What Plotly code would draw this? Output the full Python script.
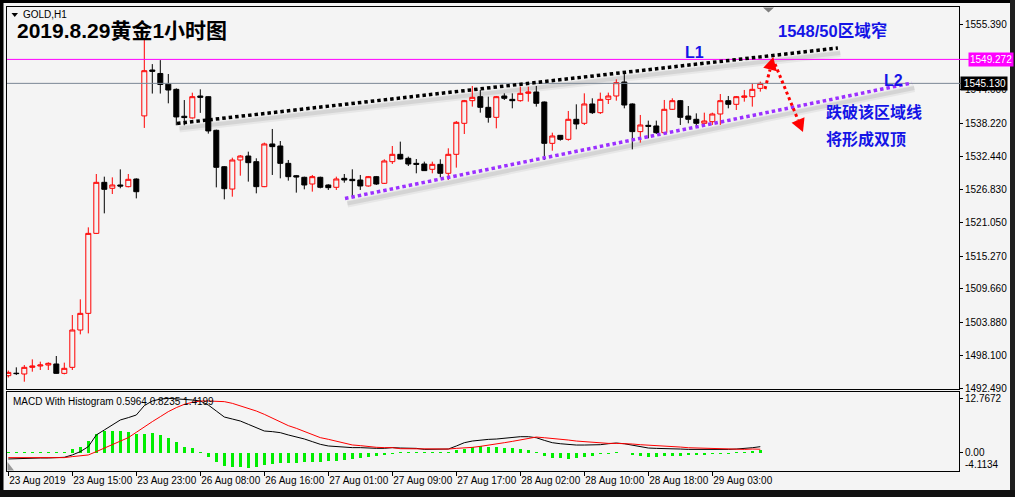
import plotly.graph_objects as go

# ---------------- data ----------------
tick_bars = [0, 8, 16, 24, 32, 40, 48, 56, 64, 72, 80, 88]
tick_labels = ["23 Aug 2019", "23 Aug 15:00", "23 Aug 23:00", "26 Aug 08:00", "26 Aug 16:00",
               "27 Aug 01:00", "27 Aug 09:00", "27 Aug 17:00", "28 Aug 02:00", "28 Aug 10:00",
               "28 Aug 18:00", "29 Aug 03:00"]

opens = [1494.62, 1495.05, 1494.91, 1496.06, 1496.29, 1496.46, 1496.64, 1495.02, 1496.06, 1502.51,
         1505.39, 1519.21, 1528.03, 1527.00, 1527.57, 1527.28, 1528.60, 1539.51, 1547.44, 1546.84,
         1545.00, 1544.10, 1539.45, 1539.16, 1542.95, 1542.83, 1537.02, 1530.73, 1526.87, 1531.89,
         1532.58, 1531.60, 1527.28, 1534.66, 1534.31, 1531.31, 1529.18, 1528.90, 1527.74, 1528.90,
         1527.57, 1527.17, 1528.72, 1528.55, 1528.43, 1527.40, 1529.01, 1527.86, 1531.60, 1532.87,
         1532.18, 1531.31, 1531.20, 1530.28, 1531.14, 1529.59, 1532.87, 1538.23, 1542.14, 1542.83,
         1540.99, 1539.26, 1542.95, 1542.37, 1542.14, 1543.41, 1543.64, 1541.91, 1534.77, 1536.15,
         1535.46, 1538.92, 1538.23, 1541.57, 1540.07, 1542.37, 1542.95, 1545.37, 1541.57, 1536.79,
         1537.88, 1537.77, 1536.61, 1540.65, 1542.14, 1539.49, 1538.92, 1538.23, 1538.51, 1539.84,
         1542.14, 1541.51, 1542.72, 1542.83, 1544.27]
highs = [1495.50, 1496.06, 1496.46, 1497.44, 1497.04, 1496.93, 1498.02, 1496.87, 1505.10, 1507.81,
         1520.25, 1529.47, 1529.01, 1528.89, 1530.27, 1529.47, 1528.72, 1552.92, 1548.46, 1549.15,
         1546.75, 1544.27, 1542.25, 1543.52, 1544.10, 1542.90, 1537.14, 1530.85, 1532.29, 1532.75,
         1533.33, 1532.18, 1534.89, 1537.25, 1535.17, 1531.89, 1529.30, 1529.01, 1529.30, 1529.01,
         1527.69, 1529.01, 1529.47, 1530.28, 1529.30, 1529.13, 1529.13, 1532.01, 1534.31, 1535.06,
         1532.47, 1532.06, 1531.60, 1531.60, 1532.01, 1533.91, 1538.63, 1542.26, 1544.68, 1543.99,
         1542.83, 1542.95, 1543.41, 1543.41, 1544.56, 1544.56, 1544.68, 1542.00, 1536.61, 1536.20,
         1540.36, 1541.51, 1543.41, 1542.55, 1543.53, 1543.53, 1545.83, 1547.15, 1541.68, 1539.67,
         1538.69, 1538.69, 1542.26, 1542.55, 1542.26, 1541.22, 1539.95, 1540.07, 1540.07, 1543.29,
         1542.95, 1542.95, 1543.99, 1545.14, 1545.43]
lows = [1494.30, 1494.73, 1493.58, 1495.31, 1495.60, 1495.60, 1494.95, 1494.85, 1495.60, 1501.76,
        1501.93, 1519.10, 1522.67, 1526.01, 1527.00, 1527.16, 1525.26, 1537.43, 1543.37, 1543.37,
        1541.68, 1537.89, 1537.89, 1539.04, 1540.03, 1536.45, 1527.16, 1525.09, 1525.55, 1529.18,
        1528.15, 1526.13, 1527.20, 1529.30, 1528.72, 1528.32, 1526.25, 1526.82, 1526.42, 1526.99,
        1526.71, 1526.71, 1527.97, 1525.56, 1526.71, 1527.28, 1527.57, 1527.74, 1531.20, 1532.00,
        1530.85, 1529.59, 1529.99, 1529.59, 1528.90, 1528.43, 1530.57, 1536.38, 1541.11, 1540.07,
        1538.34, 1537.36, 1542.26, 1540.82, 1541.97, 1541.97, 1541.11, 1531.89, 1533.50, 1535.23,
        1535.23, 1537.19, 1537.94, 1539.84, 1539.84, 1541.57, 1542.14, 1540.82, 1533.73, 1534.89,
        1535.63, 1536.38, 1536.38, 1540.53, 1537.94, 1538.23, 1537.77, 1537.94, 1537.94, 1537.94,
        1540.82, 1540.53, 1541.97, 1541.11, 1543.70]
closes = [1495.19, 1494.98, 1496.06, 1496.29, 1496.46, 1496.75, 1495.02, 1495.89, 1502.51, 1505.39,
          1519.21, 1528.03, 1526.82, 1527.57, 1527.39, 1528.55, 1526.41, 1547.32, 1547.21, 1544.94,
          1543.98, 1539.33, 1539.22, 1542.83, 1542.72, 1536.91, 1530.62, 1526.93, 1531.89, 1532.58,
          1531.43, 1527.28, 1534.66, 1534.20, 1531.31, 1529.01, 1528.95, 1527.57, 1529.01, 1527.17,
          1527.11, 1528.61, 1528.43, 1528.32, 1527.40, 1529.01, 1527.74, 1531.72, 1532.87, 1532.06,
          1531.20, 1531.14, 1530.05, 1531.14, 1529.59, 1532.87, 1538.40, 1542.14, 1542.72, 1540.99,
          1539.26, 1542.83, 1542.55, 1542.14, 1543.41, 1543.64, 1541.68, 1534.77, 1536.04, 1535.46,
          1538.92, 1538.11, 1541.57, 1540.07, 1542.37, 1542.95, 1545.25, 1541.39, 1536.79, 1537.94,
          1537.71, 1536.61, 1540.65, 1542.14, 1539.26, 1538.92, 1538.23, 1538.63, 1539.84, 1542.14,
          1541.51, 1542.83, 1542.95, 1544.10, 1545.13]

macd_line = [-1.47, -1.39, -1.32, -1.24, -1.24, -1.24, -1.16, -1.08,
             -0.53, 0.25, 1.42, 4.17, 5.34, 6.51, 7.69, 8.24, 8.86, 11.06, 12.15, 12.60, 12.77, 12.65, 12.55, 12.39, 12.15,
             11.21, 9.80, 8.39, 7.92, 7.45, 6.67, 5.89, 5.10, 4.95, 4.71, 4.17, 3.77, 3.23, 2.60, 1.97, 1.58, 1.42, 1.27,
             1.19, 1.19, 1.03, 1.03, 1.03, 1.19,
             1.10, 1.10, 1.02, 0.78, 0.78, 0.78, 0.86, 1.57, 2.35, 2.74, 2.98, 3.13, 3.21, 3.45, 3.68, 3.76, 3.76, 3.52,
             2.90, 2.35, 2.11, 1.88, 1.80, 1.80, 1.80, 1.88, 2.11, 2.27, 2.11, 1.72, 1.33, 1.10, 1.02, 1.02, 0.94, 0.86,
             0.78, 0.78, 0.70, 0.63, 0.63, 0.78, 0.86, 0.94, 1.17, 1.42]
signal_line = [-1.16, -1.16, -1.16, -1.16, -1.16, -1.16, -1.16, -1.16,
               -0.92, -0.69, -0.53, 0.25, 1.03, 1.82, 2.75, 3.54, 4.79, 6.12, 7.30, 8.47, 9.65, 10.59, 11.37, 11.84, 12.15,
               12.15, 12.15, 12.00, 11.60, 11.06, 10.43, 9.80, 9.02, 8.08, 7.14, 6.36, 5.73, 4.95, 4.17, 3.54, 3.15, 2.75,
               2.29, 1.82, 1.66, 1.42, 1.27, 1.19, 1.19,
               0.94, 0.94, 0.86, 0.78, 0.78, 0.78, 0.86, 1.02, 1.10, 1.25, 1.49, 1.72, 1.96, 2.35, 2.66, 2.98, 3.29, 3.68,
               3.52, 3.37, 3.13, 2.98, 2.74, 2.58, 2.35, 2.27, 2.19, 2.19, 2.19, 2.04, 1.88, 1.80, 1.72, 1.57, 1.41, 1.33,
               1.17, 1.10, 1.02, 0.94, 0.86, 0.78, 0.78, 0.78, 0.86, 0.82]
histogram = [0.2, 0.2, 0.2, 0.2, 0.2, 0.2, 0.2, 0.2,
             0.90, 1.45, 2.86, 4.42, 5.21, 5.21, 5.21, 4.82, 4.42, 4.42, 4.66, 4.19, 3.48, 2.47, 1.45, 1.14, 0.27,
             -1.06, -2.23, -3.17, -3.25, -3.41, -3.64, -3.41, -2.86, -2.62, -2.39, -2.39, -2.39, -2.23, -2.07, -2.07,
             -1.84, -1.84, -1.61, -1.45, -1.29, -1.06, -0.82, -0.51, -0.35,
             0.15, 0.15, 0.15, 0.15, 0.15, 0.15, 0.20, 0.55, 0.94, 1.41, 1.57, 1.41, 1.33, 1.17, 1.10, 0.78, 0.63, 0.16,
             -0.78, -1.17, -1.33, -1.41, -1.25, -1.02, -0.78, -0.39, -0.23, 0.10, -0.10, -0.55, -0.78, -1.02, -1.02,
             -0.78, -0.78, -0.70, -0.63, -0.55, -0.47, -0.39, -0.31, -0.23, 0.10, 0.23, 0.39, 0.60]

price_ticks = [1555.390, 1544.000, 1538.220, 1532.440, 1526.830, 1521.050, 1515.270,
               1509.660, 1503.880, 1498.100, 1492.490]
level_line = 1549.272
bid_price = 1545.130
macd_title = "MACD With Histogram 0.5964 0.8235 1.4199"

# trend lines (bar index, price)
L1 = ((21.09, 1538.20), (103.70, 1551.24))
L2 = ((42.09, 1525.24), (112.96, 1545.20))

bars = list(range(len(closes)))

# ---------------- geometry helpers ----------------
W, H = 1015, 497
LP, RP, TP, BP = 7, 959, 7, 471


def px(x):
    return (x - LP) / (RP - LP)


def py(y):
    return (BP - y) / (BP - TP)


BG = "#F4F4F4"
TXT = "Liberation Sans, Arial, sans-serif"
BLUE = "#1414e6"
FS = 10

fig = go.Figure()

fig.add_trace(go.Candlestick(
    x=bars, open=opens, high=highs, low=lows, close=closes,
    increasing=dict(line=dict(color="#ff0000", width=1), fillcolor=BG),
    decreasing=dict(line=dict(color="#000000", width=1), fillcolor="#000000"),
    whiskerwidth=0, hoverinfo="skip", showlegend=False, xaxis="x", yaxis="y"))

fig.add_trace(go.Bar(x=bars, y=histogram, width=0.4, marker=dict(color="#00ee00", line=dict(width=0)),
                     hoverinfo="skip", showlegend=False, xaxis="x2", yaxis="y2"))
fig.add_trace(go.Scatter(x=bars, y=macd_line, mode="lines", line=dict(color="#000000", width=1),
                         hoverinfo="skip", showlegend=False, xaxis="x2", yaxis="y2"))
fig.add_trace(go.Scatter(x=bars, y=signal_line, mode="lines", line=dict(color="#ff0000", width=1),
                         hoverinfo="skip", showlegend=False, xaxis="x2", yaxis="y2"))

xr = [(LP - 8.3) / 8, (RP - 8.3) / 8]
p_per_px = (1555.39 - 1492.49) / (388 - 24)
yr = [1555.39 - (389 - 24) * p_per_px, 1555.39 + (24 - TP) * p_per_px]
m_per_px = 0.235
y2r = [-(BP - 452.7) * m_per_px, (452.7 - 392) * m_per_px]

axis_common = dict(showgrid=False, zeroline=False, showline=True, mirror=True,
                   linecolor="#000000", linewidth=1, fixedrange=True, automargin=False)
tickfont = dict(family=TXT, size=FS, color="#000000")

fig.update_layout(
    width=W, height=H,
    margin=dict(l=LP, r=W - RP, t=TP, b=H - BP, autoexpand=False),
    paper_bgcolor=BG, plot_bgcolor=BG,
    boxgap=0.375, boxgroupgap=0, bargap=0,
    showlegend=False,
    xaxis=dict(domain=[0, 1], anchor="y", range=xr, showticklabels=False, ticks="",
               rangeslider=dict(visible=False), **axis_common),
    yaxis=dict(domain=[py(389), 1], anchor="x", side="right", range=yr,
               tickvals=price_ticks, ticktext=["%.3f" % v for v in price_ticks],
               ticks="outside", ticklen=3, tickcolor="#000000", tickfont=tickfont, **axis_common),
    xaxis2=dict(domain=[0, 1], anchor="y2", range=xr, matches="x",
                tickvals=tick_bars, ticktext=tick_labels, ticks="outside", ticklen=4, tickangle=0,
                tickcolor="#000000", ticklabelposition="outside right", tickfont=tickfont,
                rangeslider=dict(visible=False), **axis_common),
    yaxis2=dict(domain=[0, py(392)], anchor="x2", side="right", range=y2r,
                tickvals=[12.7672, 0], ticktext=["12.7672", "0.00"],
                ticks="outside", ticklen=3, tickcolor="#000000", tickfont=tickfont, **axis_common),
)

shapes = []
# horizontal price lines
shapes.append(dict(type="line", xref="paper", yref="y", x0=0, x1=px(969), y0=level_line, y1=level_line,
                   line=dict(color="#ff00ff", width=1)))
shapes.append(dict(type="line", xref="paper", yref="y", x0=0, x1=px(961), y0=bid_price, y1=bid_price,
                   line=dict(color="#7a8795", width=1)))

# trend lines with soft shadows
for (a, b), col in ((L1, "#000000"), (L2, "#9b30ff")):
    for w, op, dy in ((7, 0.05, 5.5), (4, 0.08, 5.0)):
        shapes.append(dict(type="line", xref="x", yref="y", x0=a[0] + 0.3, y0=a[1] - dy * p_per_px,
                           x1=b[0] + 0.3, y1=b[1] - dy * p_per_px, layer="below",
                           line=dict(color="rgba(0,0,0,%s)" % op, width=w)))
    shapes.append(dict(type="line", xref="x", yref="y", x0=a[0], y0=a[1], x1=b[0], y1=b[1],
                       line=dict(color=col, width=3.5, dash="3.5px,3px")))


def arrow(tail, tip, hl=13, hw=7):
    dx, dy = tip[0] - tail[0], tip[1] - tail[1]
    n = (dx * dx + dy * dy) ** 0.5
    ux, uy = dx / n, dy / n
    bx, by = tip[0] - ux * hl, tip[1] - uy * hl
    p1 = (bx - uy * hw, by + ux * hw)
    p2 = (bx + uy * hw, by - ux * hw)
    line = dict(type="line", xref="paper", yref="paper", x0=px(tail[0]), y0=py(tail[1]),
                x1=px(bx), y1=py(by), line=dict(color="#ff0000", width=3, dash="3px,3px"))
    head = dict(type="path", xref="paper", yref="paper",
                path="M %f %f L %f %f L %f %f Z" % (px(tip[0]), py(tip[1]), px(p1[0]), py(p1[1]),
                                                    px(p2[0]), py(p2[1])),
                fillcolor="#ff0000", line=dict(width=0))
    return [line, head]


shapes += arrow((765, 89), (773.3, 57))
shapes += arrow((775, 64), (803, 132))

# small markers
shapes.append(dict(type="path", xref="paper", yref="paper",
                   path="M %f %f L %f %f L %f %f Z" % (px(763), py(7.5), px(774), py(7.5), px(768.5), py(12.5)),
                   fillcolor="#7f7f7f", line=dict(width=0)))
shapes.append(dict(type="path", xref="paper", yref="paper",
                   path="M %f %f L %f %f L %f %f Z" % (px(7.5), py(462), px(7.5), py(470.5), px(14), py(470.5)),
                   fillcolor="#9a9a9a", line=dict(width=0)))
shapes.append(dict(type="path", xref="paper", yref="paper",
                   path="M %f %f L %f %f L %f %f Z" % (px(11.5), py(13), px(18), py(13), px(14.75), py(17)),
                   fillcolor="#000000", line=dict(width=0)))

# window frame
for x0, x1, y0, y1, c in ((0, W, 0, 3, "#000000"), (0, 3.5, 0, H, "#000000"),
                          (W - 5, W, 0, H, "#202020"), (0, W, 490, H, "#111111")):
    shapes.append(dict(type="rect", xref="paper", yref="paper", x0=px(x0), x1=px(x1),
                       y0=py(y1), y1=py(y0), fillcolor=c, line=dict(width=0), layer="above"))

fig.update_layout(shapes=shapes)

ann = []
ann.append(dict(text="2019.8.29黄金1小时图", xref="paper", yref="paper", x=px(15), y=py(31),
                xanchor="left", yanchor="middle", showarrow=False,
                font=dict(family="Liberation Sans, Noto Sans CJK SC, sans-serif", size=21, color="#000000",
                          weight="bold")))
ann.append(dict(text="GOLD,H1", xref="paper", yref="paper", x=px(21), y=py(14.5),
                xanchor="left", yanchor="middle", showarrow=False,
                font=dict(family=TXT, size=FS, color="#000000")))
ann.append(dict(text=macd_title, xref="paper", yref="paper", x=px(11), y=py(401),
                xanchor="left", yanchor="middle", showarrow=False,
                font=dict(family=TXT, size=FS, color="#000000")))
ann.append(dict(text="-4.1134", xref="paper", yref="paper", x=px(963), y=py(464.5),
                xanchor="left", yanchor="middle", showarrow=False,
                font=dict(family=TXT, size=FS, color="#000000")))
# price boxes
ann.append(dict(text="%.3f" % level_line, xref="paper", yref="y", x=px(968), y=level_line,
                xanchor="left", yanchor="middle", showarrow=False, bgcolor="#ff00ff", borderpad=1,
                font=dict(family=TXT, size=FS, color="#ffffff")))
ann.append(dict(text="%.3f" % bid_price, xref="paper", yref="y", x=px(960), y=bid_price,
                xanchor="left", yanchor="middle", showarrow=False, bgcolor="#000000", borderpad=1,
                width=44, align="right",
                font=dict(family=TXT, size=FS, color="#ffffff")))
# blue notes
bfont = dict(family="Liberation Sans, Noto Sans CJK SC, sans-serif", size=16, color=BLUE, weight="bold")
for txt, x, y, anc, sz in (("L1", 694.5, 52.5, "center", 16), ("L2", 893.5, 81, "center", 16),
                           ("1548/50区域窄", 832.5, 31, "center", 16.5),
                           ("跌破该区域线", 824, 111.5, "left", 16), ("将形成双顶", 824, 139, "left", 16)):
    f = dict(bfont)
    f["size"] = sz
    ann.append(dict(text=txt, xref="paper", yref="paper", x=px(x), y=py(y), xanchor=anc,
                    yanchor="middle", showarrow=False, font=f))

fig.update_layout(annotations=ann)

fig.write_html("out.html", config={"displayModeBar": False, "staticPlot": True},
               post_script="document.body.style.margin='0px';document.body.style.overflow='hidden';")
